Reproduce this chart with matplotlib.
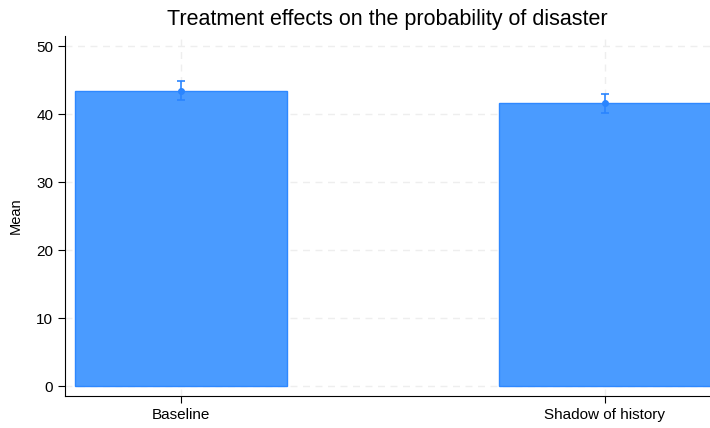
import numpy as np
import matplotlib.pyplot as plt

plt.rcParams['font.family'] = ['Liberation Sans', 'DejaVu Sans']

# data
groups = ['Baseline', 'Shadow of history']
means = [43.4, 41.6]
ci_low = [42.1, 40.1]
ci_high = [44.85, 43.0]

fig = plt.figure(figsize=(7.10, 4.28), dpi=100)
ax = fig.add_axes([65 / 710, 32 / 428, 645 / 710, 360 / 428])

x = np.arange(len(groups))
ax.bar(x, means, width=0.502, color='#4a9bff', edgecolor='#2e88ff', linewidth=1, zorder=2)
yerr = [np.array(means) - np.array(ci_low), np.array(ci_high) - np.array(means)]
ax.errorbar(x, means, yerr=yerr, fmt='o', color='#2a85ff', markersize=4,
            capsize=3, elinewidth=1.2, capthick=1.2, zorder=3)

ax.set_xlim(-0.274, 1.248)
ax.set_ylim(-1.47, 51.5)
ax.set_yticks([0, 10, 20, 30, 40, 50])
ax.set_xticks(x)
ax.set_xticklabels(groups, fontsize=11)
ax.tick_params(axis='y', labelsize=11)
ax.tick_params(length=5)
ax.set_ylabel('Mean', fontsize=10.5, labelpad=10)
ax.set_title('Treatment effects on the probability of disaster', fontsize=15.5, pad=8)

ax.grid(True, linestyle=(0, (5, 4)), color='#eeeeee', linewidth=1, zorder=0)
ax.set_axisbelow(True)
for s in ['top', 'right']:
    ax.spines[s].set_visible(False)

fig.savefig('out.png', dpi=100)
